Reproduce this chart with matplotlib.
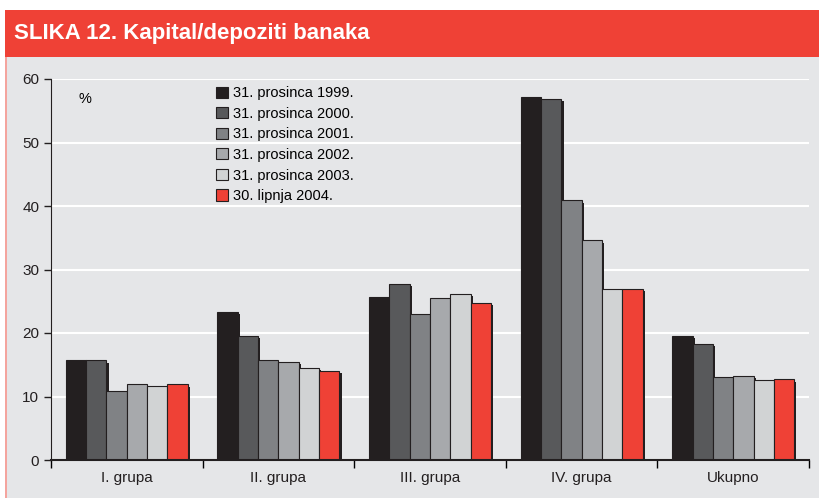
import numpy as np
import matplotlib
matplotlib.use('Agg')
from matplotlib import pyplot as plt
from matplotlib.patches import Rectangle
import matplotlib.patheffects as pe

plt.rcParams['font.family'] = ['Liberation Sans', 'DejaVu Sans']

groups = ['I. grupa', 'II. grupa', 'III. grupa', 'IV. grupa', 'Ukupno']
series = ['31. prosinca 1999.', '31. prosinca 2000.', '31. prosinca 2001.',
          '31. prosinca 2002.', '31. prosinca 2003.', '30. lipnja 2004.']
d1999 = [15.7, 23.3, 25.6, 57.1, 19.5]
d2000 = [15.7, 19.5, 27.7, 56.9, 18.3]
d2001 = [10.9, 15.8, 23.0, 40.9, 13.0]
d2002 = [12.0, 15.4, 25.5, 34.6, 13.3]
d2003 = [11.6, 14.5, 26.1, 27.0, 12.65]
d2004 = [11.9, 14.0, 24.7, 27.0, 12.7]
values = [d1999, d2000, d2001, d2002, d2003, d2004]
colors = ['#231f20', '#58595b', '#808285', '#a7a9ac', '#d1d3d4', '#ef4136']

W, H = 819, 498
fig = plt.figure(figsize=(W / 100, H / 100), dpi=100)
fig.patch.set_facecolor('white')

# panel and title banner (behind the axes)
fig.patches.append(Rectangle((6 / W, 0), 1, (H - 57) / H, transform=fig.transFigure,
                             facecolor='#e5e6e8', edgecolor='none', zorder=-2))
fig.patches.append(Rectangle((5 / W, 0), 1.5 / W, (H - 57) / H, transform=fig.transFigure,
                             facecolor='#f4a49e', edgecolor='none', zorder=-2))
fig.patches.append(Rectangle((5 / W, (H - 57) / H), 1, 47 / H, transform=fig.transFigure,
                             facecolor='#ef4136', edgecolor='none', zorder=-2))
fig.text(14 / W, (H - 34) / H, 'SLIKA 12. Kapital/depoziti banaka', color='white',
         fontsize=16, fontweight='bold', va='center', ha='left')

ax = fig.add_axes([51 / W, 38 / H, 758 / W, 381 / H])
ax.set_facecolor('none')

x = np.arange(len(groups))
bw = 0.134
for i, (vals, c, lab) in enumerate(zip(values, colors, series)):
    pos = x - 2.5 * bw + i * bw
    bars = ax.bar(pos, vals, width=bw, color=c, edgecolor='#231f20', linewidth=0.8,
                  label=lab, zorder=3)
    for b in bars:
        b.set_path_effects([pe.SimplePatchShadow(offset=(1.6, -1.6), shadow_rgbFace='#231f20',
                                                 alpha=1.0), pe.Normal()])

ax.set_xlim(-0.5, len(groups) - 0.5)
ax.set_ylim(0, 60)
ax.set_yticks(range(0, 61, 10))
ax.yaxis.grid(True, color='white', linewidth=1.5, zorder=1)
ax.set_axisbelow(True)
ax.set_xticks(np.arange(-0.5, len(groups), 1.0))
ax.set_xticklabels([])
ax.set_xticks(x, minor=True)
ax.set_xticklabels(groups, minor=True)
ax.tick_params(axis='x', which='major', length=6, width=1, direction='out')
ax.tick_params(axis='x', which='minor', length=0, pad=8, labelsize=11, colors='#231f20')
ax.tick_params(axis='y', length=5, width=1, labelsize=11, colors='#231f20')
for s in ['top', 'right']:
    ax.spines[s].set_visible(False)
ax.spines['left'].set_color('#231f20')
ax.spines['bottom'].set_color('#231f20')
ax.spines['bottom'].set_linewidth(1.5)
ax.spines['bottom'].set_zorder(4)

ax.text(0.045, 0.948, '%', transform=ax.transAxes, fontsize=10.5, va='center', ha='center')

leg = ax.legend(loc='upper left', bbox_to_anchor=(0.208, 1.0), frameon=False,
                fontsize=10.5, handlelength=0.8, handleheight=0.8, handletextpad=0.4,
                labelspacing=0.45, borderaxespad=0.1)
for h in leg.legend_handles:
    h.set_path_effects([])

fig.savefig('out.png', dpi=100)
